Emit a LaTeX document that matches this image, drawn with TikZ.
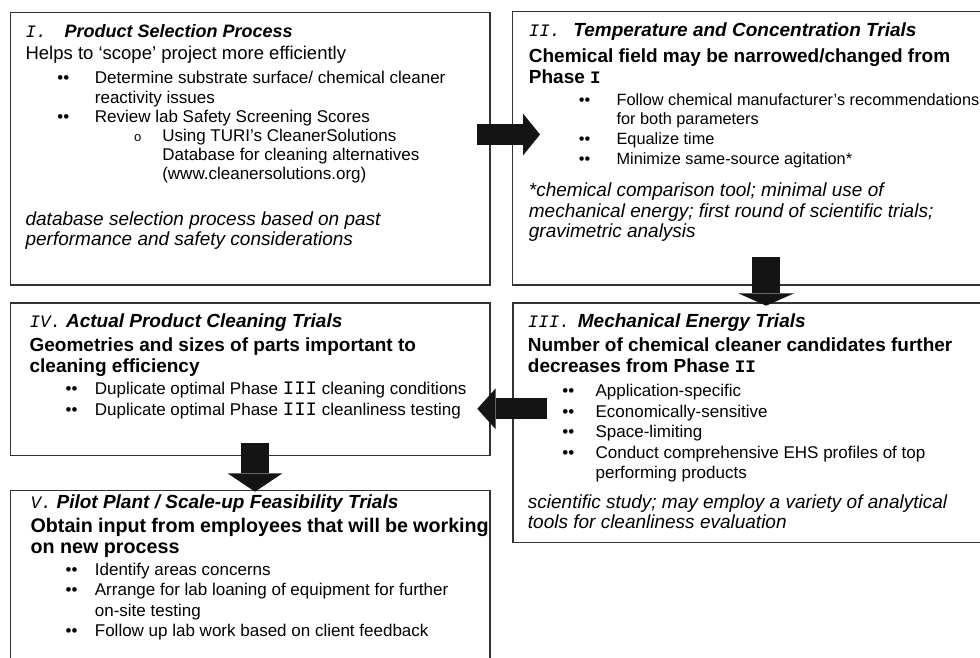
\documentclass[tikz,border=0pt]{standalone}
\usepackage{fontspec}
\setmainfont{Liberation Sans}
\setmonofont{Liberation Mono}
\usetikzlibrary{arrows.meta,calc,positioning}

\newlength\dotx
\newlength\txtx
\newlength\itemskip
\def\itemsize{17}
\hbadness=10000 \hfuzz=200pt
\newcommand{\pbox}[3]{\parbox[t][#2][t]{#1}{\rightskip=0pt plus 1fil minus 90pt\hyphenpenalty=10000 #3}}
\newcommand{\pmono}[2][17.5]{{\fontsize{#1}{20}\selectfont\ttfamily #2}}
\newcommand{\ptitle}[4][19]{{\fontsize{#1}{22}\selectfont{\fontsize{17.5}{22}\selectfont\ttfamily\itshape #2}\hspace{#3}\textbf{\textit{#4}}\par}}
\newcommand{\plead}[2][19]{{\fontsize{#1}{21}\selectfont\bfseries #2\par}}
\newcommand{\pitem}[1]{{\fontsize{\itemsize}{\the\itemskip}\selectfont\hangindent=\txtx\hangafter=1\noindent\hspace*{\dotx}\makebox[\dimexpr\txtx-\dotx\relax][l]{••}#1\par}}
\newcommand{\psub}[1]{{\fontsize{\itemsize}{\the\itemskip}\selectfont\hangindent=136.7pt\hangafter=1\noindent\hspace*{108.3pt}\makebox[28.4pt][l]{\fontsize{13}{13}\selectfont\ttfamily o}#1\par}}
\newcommand{\pnote}[1]{{\fontsize{19}{20.3}\selectfont\itshape #1\par}}

\begin{document}
\begin{tikzpicture}[x=1pt,y=-1pt,
    box/.style={draw=black!80,line width=1.2pt,anchor=north west,inner sep=0pt},
    bigarrow/.style n args={3}{draw=black!92,line width=#1,-{Triangle[length=#2,width=#3,line width=0pt]}}]
  \useasboundingbox (0,0) rectangle (980,658);

  % phase I
  \node[box,inner xsep=15pt,inner ysep=12pt] (b1) at (10,11.7) {\pbox{449.3pt}{248.6pt}{%
    \setlength\dotx{31.7pt}\setlength\txtx{69.3pt}\setlength\itemskip{19.2pt}%
    \ptitle[18]{I.}{18pt}{Product Selection Process}
    {\fontsize{18.5}{22.6}\selectfont Helps to ‘scope’ project more efficiently\par}
    \vspace{4.8pt}
    \pitem{Determine substrate surface/ chemical cleaner\\ reactivity issues}
    \pitem{Review lab Safety Screening Scores}
    \psub{Using TURI’s CleanerSolutions\\ Database for cleaning alternatives\\ (www.cleanersolutions.org)}
    \vspace{25.4pt}
    \pnote{database selection process based on past\\ performance and safety considerations}}};

  % phase II
  \node[box,inner xsep=16.6pt,inner ysep=11.1pt] (b2) at (511.7,11) {\pbox{456.8pt}{251.1pt}{%
    \def\itemsize{16.3}%
    \setlength\dotx{50pt}\setlength\txtx{87.7pt}\setlength\itemskip{19.7pt}%
    \ptitle{II.}{13pt}{Temperature and Concentration Trials}
    \vspace{5pt}
    \plead{Chemical field may be narrowed/changed from\\ Phase \pmono{I}}
    \vspace{2pt}
    \pitem{Follow chemical manufacturer’s recommendations\\ for both parameters}
    \pitem{Equalize time}
    \pitem{Minimize same-source agitation*}
    \vspace{12.4pt}
    \pnote{*chemical comparison tool; minimal use of\\ mechanical energy; first round of scientific trials;\\ gravimetric analysis}}};

  % phase III
  \node[box,inner xsep=15pt,inner ysep=10.8pt] (b3) at (512.3,302.3) {\pbox{460pt}{217.8pt}{%
    \setlength\dotx{34.4pt}\setlength\txtx{67.7pt}\setlength\itemskip{20.6pt}%
    \ptitle{III.}{8pt}{Mechanical Energy Trials}
    \vspace{3.5pt}
    \plead{Number of chemical cleaner candidates further\\ decreases from Phase \pmono{II}}
    \vspace{3pt}
    \pitem{Application-specific}
    \pitem{Economically-sensitive}
    \pitem{Space-limiting}
    \pitem{Conduct comprehensive EHS profiles of top\\ performing products}
    \vspace{9.1pt}
    \pnote{scientific study; may employ a variety of analytical\\ tools for cleanliness evaluation}}};

  % phase IV
  \node[box,inner xsep=19pt,inner ysep=10.8pt] (b4) at (10,302.3) {\pbox{441.3pt}{131.1pt}{%
    \setlength\dotx{36pt}\setlength\txtx{65.3pt}\setlength\itemskip{21.5pt}%
    \ptitle{IV.}{5pt}{Actual Product Cleaning Trials}
    \vspace{3.5pt}
    \plead{Geometries and sizes of parts important to\\ cleaning efficiency}
    \pitem{Duplicate optimal Phase \pmono[19]{III} cleaning conditions}
    \pitem{Duplicate optimal Phase \pmono[19]{III} cleanliness testing}}};

  % phase V
  \node[box,inner xsep=20pt,inner ysep=4pt] (b5) at (10,490) {\pbox{439.3pt}{182pt}{%
    \setlength\dotx{35pt}\setlength\txtx{64.3pt}\setlength\itemskip{20.3pt}%
    \ptitle{V.}{5pt}{Pilot Plant / Scale-up Feasibility Trials}
    \vspace{3.5pt}
    \plead[19.7]{Obtain input from employees that will be working\\ on new process}
    \vspace{1.3pt}
    \pitem{Identify areas concerns}
    \pitem{Arrange for lab loaning of equipment for further\\ on-site testing}
    \pitem{Follow up lab work based on client feedback}}};

  % block arrows between the phases
  \coordinate (a12s) at (477,134.5);
  \coordinate (a12e) at (540,134.5);
  \coordinate (a23s) at (766.2,257.3);
  \coordinate (a23e) at (766.2,305.7);
  \coordinate (a34s) at (547.3,408.8);
  \coordinate (a34e) at (477.3,408.8);
  \coordinate (a45s) at (255,442.7);
  \coordinate (a45e) at (255,491.7);
  \draw[bigarrow={21pt}{17pt}{42pt}] (a12s) -- (a12e);
  \draw[bigarrow={27.6pt}{12.4pt}{56pt}] (a23s) -- (a23e);
  \draw[bigarrow={21pt}{18.4pt}{41pt}] (a34s) -- (a34e);
  \draw[bigarrow={28.6pt}{18.4pt}{55pt}] (a45s) -- (a45e);
\end{tikzpicture}
\end{document}
